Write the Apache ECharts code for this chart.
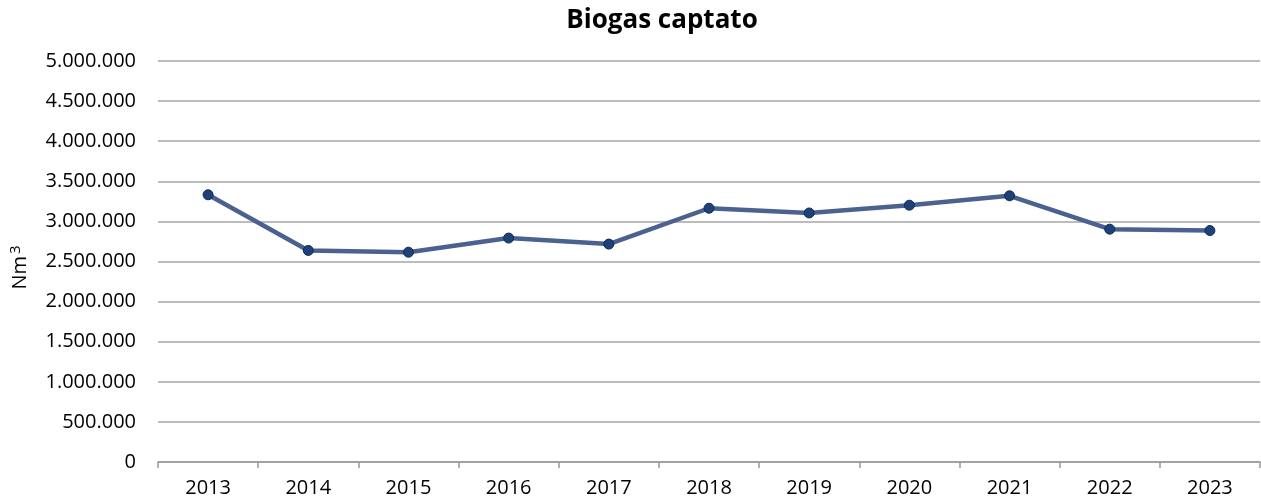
<!DOCTYPE html>
<html>
<head>
<meta charset="utf-8">
<script src="https://cdn.jsdelivr.net/npm/echarts@6/dist/echarts.min.js"></script>
<style>
  html, body { margin: 0; padding: 0; background: #fff; }
  #chart { width: 1261px; height: 501px; }
</style>
</head>
<body>
<div id="chart"></div>
<script>
const years = ['2013', '2014', '2015', '2016', '2017', '2018', '2019', '2020', '2021', '2022', '2023']
const biogas = [3332000, 2638000, 2616000, 2792000, 2717000, 3164000, 3105000, 3202000, 3319000, 2903000, 2886000]

// dot as thousands separator, like the source
const fmt = v => String(v).replace(/\B(?=(\d{3})+(?!\d))/g, '.')

const chart = echarts.init(document.getElementById('chart'))
chart.setOption({
  backgroundColor: '#fff',
  animation: false,
  title: {
    text: 'Biogas captato',
    left: 657,
    textAlign: 'center',
    top: 3,
    textStyle: { fontFamily: 'Open Sans', fontWeight: 'bold', fontSize: 26, color: '#000' }
  },
  grid: { left: 158, right: 1, top: 61, bottom: 39, outerBoundsMode: 'none', containLabel: false },
  xAxis: {
    type: 'category',
    data: years,
    boundaryGap: true,
    axisLine: { lineStyle: { color: '#999', width: 1.5 } },
    axisTick: { show: true, length: 6, lineStyle: { color: '#999', width: 1.5 } },
    axisLabel: { color: '#000', fontSize: 20, fontFamily: 'Open Sans', margin: 16 }
  },
  yAxis: {
    type: 'value',
    min: 0,
    max: 5000000,
    interval: 500000,
    name: '{a|Nm}{b|3}',
    nameLocation: 'middle',
    nameGap: 125,
    nameRotate: 90,
    nameTextStyle: {
      color: '#000',
      fontFamily: 'Open Sans',
      padding: [0, 12, 0, 0],
      rich: {
        a: { fontSize: 20, fontFamily: 'Open Sans', color: '#000' },
        b: { fontSize: 15, fontFamily: 'Open Sans', color: '#000', padding: [0, 0, 10, 2] }
      }
    },
    axisLine: { show: false },
    axisTick: { show: false },
    axisLabel: { color: '#000', fontSize: 20, fontFamily: 'Open Sans', margin: 22, formatter: fmt },
    splitLine: { lineStyle: { color: '#a6a6a6', width: 1.5 } }
  },
  series: [
    {
      type: 'line',
      data: biogas,
      symbol: 'circle',
      symbolSize: 10,
      lineStyle: { color: '#4b6190', width: 4.5 },
      itemStyle: { color: '#1f4176', borderColor: '#0d2a5c', borderWidth: 1 }
    }
  ]
})
</script>
</body>
</html>
